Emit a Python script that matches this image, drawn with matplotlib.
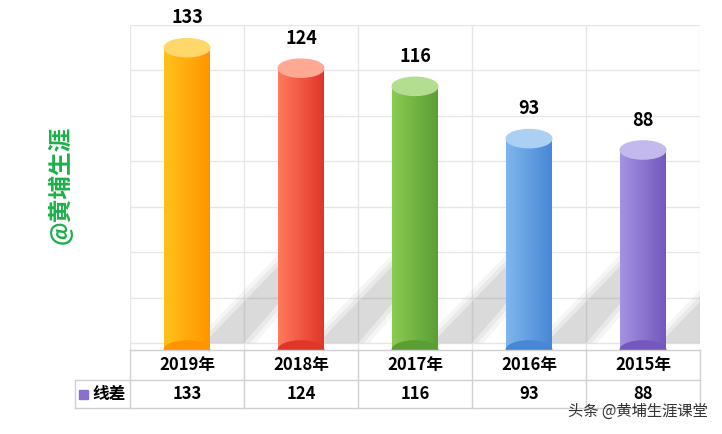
import matplotlib
matplotlib.use("Agg")
import matplotlib.pyplot as plt
import numpy as np
from matplotlib.patches import Ellipse, Rectangle, Polygon
from matplotlib.colors import LinearSegmentedColormap, to_rgb

plt.rcParams['font.family'] = ['Noto Sans CJK SC', 'DejaVu Sans']

years = ["2019年", "2018年", "2017年", "2016年", "2015年"]
values = [133, 124, 116, 93, 88]
series_name = "线差"
colors_light = ["#FFC21A", "#FF7A5C", "#8ACB52", "#7FB6EC", "#A493E2"]
colors_dark = ["#FF9400", "#E0362A", "#5B9E34", "#4787D6", "#7458BE"]

fig = plt.figure(figsize=(7.22, 4.34), dpi=100)
ax = fig.add_axes([130/722, 1-350/434, 570/722, 325/434])
ax.set_xlim(-0.5, 4.5)
ax.set_ylim(0, 143)
for s in ax.spines.values():
    s.set_visible(False)
ax.set_xticks([]); ax.set_yticks([])
for g in np.arange(0, 143, 20):
    ax.axhline(g + 3, color="#E6E6E6", lw=1, zorder=0)
for xv in np.arange(-0.5, 4.6, 1):
    ax.axvline(xv, color="#E6E6E6", lw=1, zorder=0)

w = 0.4
eh = 8
for i, v in enumerate(values):
    # soft shadow layers
    for k, a in enumerate([0.08, 0.1, 0.14]):
        d = 0.05 * (2 - k)
        sh = Polygon([(i + 0.15 - d, 3), (i + 0.5 + d, 3), (i + 1.1 + d, 38), (i + 0.9 - d, 42)],
                     closed=True, color="#808080", alpha=a, lw=0, zorder=1)
        ax.add_patch(sh)
    cmap = LinearSegmentedColormap.from_list("c", [colors_light[i], colors_dark[i]])
    grad = np.linspace(0, 1, 64).reshape(1, -1)
    im = ax.imshow(grad, cmap=cmap, aspect="auto",
                   extent=[i - w/2, i + w/2, 0, v], zorder=2)
    clip = Rectangle((i - w/2, 0), w, v, transform=ax.transData)
    im.set_clip_path(clip)
    ax.add_patch(Ellipse((i, 0), w, eh, color=colors_dark[i], zorder=2))
    top = [c + (1 - c) * 0.35 for c in to_rgb(colors_light[i])]
    ax.add_patch(Ellipse((i, v), w, eh, color=top, zorder=3))
    ax.text(i, v + 9, str(v), ha="center", va="bottom", fontsize=13,
            fontweight="bold", zorder=4)

# table
def fx(px): return px/722
def fy(py): return 1 - py/434
lc = "#D0D0D0"
for py in [350, 380, 408]:
    x0 = 130 if py == 350 else 75
    fig.add_artist(plt.Line2D([fx(x0), fx(700)], [fy(py), fy(py)], color=lc, lw=1))
fig.add_artist(plt.Line2D([fx(75), fx(75)], [fy(380), fy(408)], color=lc, lw=1))
for k in range(6):
    px = 130 + k*114
    fig.add_artist(plt.Line2D([fx(px), fx(px)], [fy(350), fy(408)], color=lc, lw=1))
for k, (yl, v) in enumerate(zip(years, values)):
    cx = 130 + 57 + k*114
    fig.text(fx(cx), fy(365), yl, ha="center", va="center", fontsize=12, fontweight="bold")
    fig.text(fx(cx), fy(394), str(v), ha="center", va="center", fontsize=12, fontweight="bold")
fig.add_artist(Rectangle((fx(79), fy(399)), fx(9), 9/434, color="#8A6FD0"))
fig.text(fx(92), fy(394), series_name, ha="left", va="center", fontsize=12, fontweight="bold")

fig.text(fx(60), fy(185), "@黄埔生涯", rotation=90, ha="center", va="center",
         fontsize=17, fontweight="bold", color="#1DB04A")
fig.text(fx(708), fy(411), "头条 @黄埔生涯课堂", ha="right", va="center",
         fontsize=11, color="#333333")

fig.savefig("out.png", dpi=100)
